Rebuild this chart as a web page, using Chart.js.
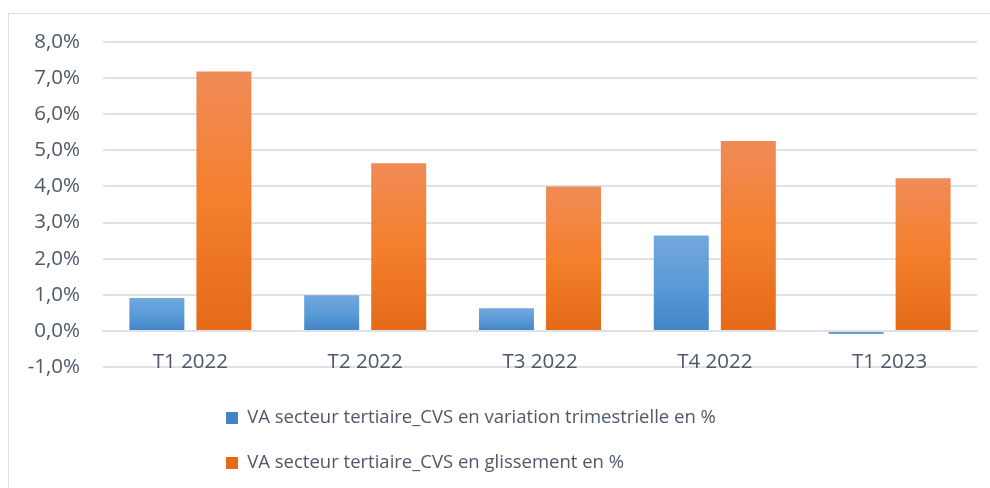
<!DOCTYPE html>
<html><head><meta charset="utf-8">
<script src="https://cdn.jsdelivr.net/npm/chart.js@4.4.0/dist/chart.umd.min.js"></script>
<style>
html,body{margin:0;padding:0;background:#fff;overflow:hidden}
#wrap{position:relative;width:990px;height:488px}
#frame{position:absolute;left:8px;top:13px;width:1000px;height:500px;border:1.5px solid #dcdfe3;box-sizing:border-box}
canvas{position:absolute;left:0;top:0}
</style></head><body>
<div id="wrap"><div id="frame"></div><canvas id="c" width="990" height="488"></canvas></div>
<script>
const categories = ['T1 2022', 'T2 2022', 'T3 2022', 'T4 2022', 'T1 2023'];
const seriesNames = [
  'VA secteur tertiaire_CVS en variation trimestrielle en %',
  'VA secteur tertiaire_CVS en glissement en %'
];
const variationTrimestrielle = [0.91, 0.99, 0.63, 2.64, -0.08];
const glissement = [7.18, 4.64, 4.00, 5.26, 4.23];
const yMin = -1, yMax = 8, yStep = 1;

const TEXT = '#4e5868';
const GRID = '#dee1e6';
const FONT = "'Open Sans', 'Liberation Sans', sans-serif";

function gradientFill(stops, solid) {
  return function (ctx) {
    const chart = ctx.chart;
    if (!chart.chartArea || ctx.type !== 'data') return solid;
    const y = chart.scales.y;
    const v = ctx.raw;
    const top = y.getPixelForValue(Math.max(v, 0));
    const bot = y.getPixelForValue(Math.min(v, 0));
    if (bot - top < 2) return stops[stops.length - 1];
    const g = chart.ctx.createLinearGradient(0, top, 0, bot);
    stops.forEach((c, i) => g.addColorStop(i / (stops.length - 1), c));
    return g;
  };
}

const legendPlace = {
  id: 'legendPlace',
  afterLayout(chart) {
    const l = chart.legend;
    const p = l.options.labels.padding;
    l.left = 226 - p;
    l.right = l.left + 560;
    l.top = 418 - p - l.options.labels.font.size / 2;
    l.bottom = 488;
    l.width = l.right - l.left;
    l.height = l.bottom - l.top;
  }
};

new Chart(document.getElementById('c'), {
  type: 'bar',
  data: {
    labels: categories,
    datasets: [
      {
        label: seriesNames[0],
        data: variationTrimestrielle,
        backgroundColor: gradientFill(['#72a8dd', '#5b9bd8', '#4284c6'], '#5b9bd5'),
        borderWidth: 0
      },
      {
        label: seriesNames[1],
        data: glissement,
        backgroundColor: gradientFill(['#f08b57', '#f47f2c', '#e46a18'], '#ed7d31'),
        borderWidth: 0
      }
    ]
  },
  options: {
    responsive: false,
    animation: false,
    events: [],
    categoryPercentage: 0.767,
    barPercentage: 0.82,
    layout: { padding: { left: 8, right: 13, top: 42, bottom: 71 } },
    scales: {
      x: {
        position: { y: 0 },
        grid: { display: false, drawTicks: false },
        border: { display: true, color: GRID, width: 2 },
        ticks: { color: TEXT, font: { family: FONT, size: 20.5 }, padding: 19, maxRotation: 0 },
        afterFit: s => { s.height = 40; }
      },
      y: {
        min: yMin, max: yMax,
        ticks: {
          stepSize: yStep, color: TEXT, font: { family: FONT, size: 20.5 }, padding: 23,
          callback: v => v.toFixed(1).replace('.', ',') + '%'
        },
        grid: { color: GRID, lineWidth: 2, drawTicks: false },
        border: { display: false },
        afterFit: s => { s.width = 95; }
      }
    },
    plugins: {
      tooltip: { enabled: false },
      legend: {
        position: 'bottom',
        align: 'start',
        maxHeight: 50,
        labels: {
          boxWidth: 12, boxHeight: 12, padding: 26.5,
          color: TEXT, font: { family: FONT, size: 18.5 }
        }
      }
    }
  },
  plugins: [legendPlace]
});
</script>
</body></html>
